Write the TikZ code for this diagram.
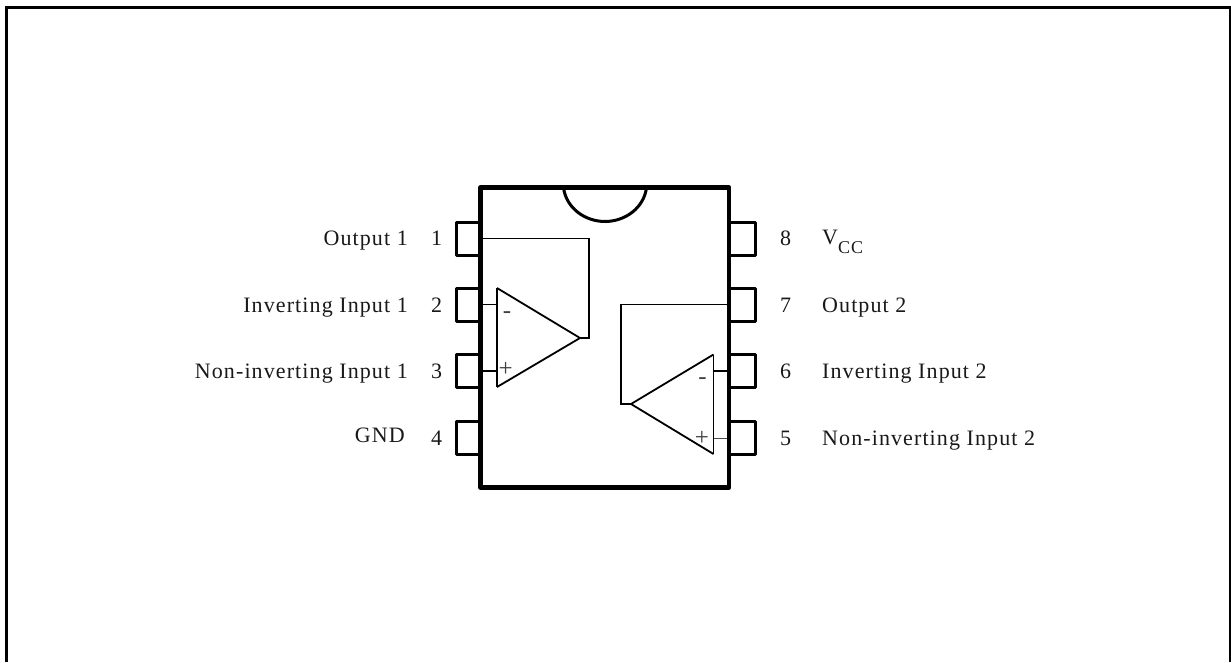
\documentclass[tikz,border=0pt]{standalone}
\usepackage{fontspec}
\setmainfont{Liberation Serif}
\newfontfamily\spaced[LetterSpace=5]{Liberation Serif}
\tikzset{
 pkg/.style={line width=4.5pt,line join=round},
 pinbox/.style={line width=3pt,line join=round},
 wire/.style={line width=1.7pt},
 amp/.style={line width=1.8pt,line join=miter},
 lab/.style={inner sep=0pt,font=\fontsize{22}{24}\selectfont\spaced,text=black!90},
 num/.style={inner sep=0pt,font=\fontsize{22}{24}\selectfont,text=black!90},
 sign/.style={inner sep=0pt,font=\fontsize{25}{28}\selectfont,text=black!75},
}
\begin{document}
\begin{tikzpicture}[x=1pt,y=-1pt]
\useasboundingbox (0,0) rectangle (1231,662);
\draw[line width=3pt] (6,662) -- (6,7) -- (1230,7) -- (1230,662);
% pins
\foreach \n/\y in {p1/222,p2/288.5,p3/354.5,p4/421}{
 \draw[pinbox] (480,\y) -- (456,\y) -- (456,\y+33) -- (480,\y+33);}
\foreach \n/\y in {p8/222,p7/288,p6/354.5,p5/421}{
 \draw[pinbox] (729,\y) -- (755,\y) -- (755,\y+33) -- (729,\y+33);}
% body with notch
\draw[pkg] (480.5,187.5) rectangle (729,487.5);
\draw[line width=3pt] (563.5,187.5) .. controls (566,208) and (585,221.5) .. (605,221.5) .. controls (625,221.5) and (644,208) .. (646.5,187.5);
% amp 1
\coordinate (a1) at (497,288); \coordinate (b1) at (497,387); \coordinate (c1) at (580,338);
\draw[amp] (a1) -- (c1) -- (b1);
\draw[line width=1.2pt] (a1) -- (b1);
\draw[wire] (c1) -- (589,338) -- (589,238.5) -- (482,238.5);
\draw[wire] (482,304.5) -- (497,304.5);
\draw[wire] (482,371) -- (497,371);
\node[sign] (m1) at (507,315) {-};
\node[sign] (pl1) at (505.7,369.5) {+};
% amp 2
\coordinate (a2) at (713.5,354.5); \coordinate (b2) at (713.5,454); \coordinate (c2) at (631,404);
\draw[amp] (a2) -- (c2) -- (b2);
\draw[line width=1.2pt] (a2) -- (b2);
\draw[wire] (c2) -- (621,404) -- (621,304.5) -- (727,304.5);
\draw[wire] (714,371) -- (727,371);
\draw[line width=1pt,black!70] (714,438) -- (727,438);
\node[sign] (m2) at (702.5,381) {-};
\node[sign] (pl2) at (702,438.5) {+};
% labels left
\node[lab,anchor=base east] (l1) at (408,245.5) {Output 1};
\node[lab,anchor=base east] (l2) at (408,312.5) {Inverting Input 1};
\node[lab,anchor=base east] (l3) at (408,378.5) {Non-inverting Input 1};
\node[lab,anchor=base east] (l4) at (405,442) {GND};
\node[num,anchor=base] (n1) at (436.5,245) {1};
\node[num,anchor=base] (n2) at (436.5,312) {2};
\node[num,anchor=base] (n3) at (436.5,378) {3};
\node[num,anchor=base] (n4) at (436.5,445) {4};
% labels right
\node[num,anchor=base] (n8) at (785.5,245) {8};
\node[num,anchor=base] (n7) at (785.5,312) {7};
\node[num,anchor=base] (n6) at (785.5,378) {6};
\node[num,anchor=base] (n5) at (785.5,445) {5};
\node[lab,anchor=base west] (l8) at (822,244) {V\raisebox{-9pt}{\fontsize{18}{20}\selectfont CC}};
\node[lab,anchor=base west] (l7) at (822,312) {Output 2};
\node[lab,anchor=base west] (l6) at (822,378.5) {Inverting Input 2};
\node[lab,anchor=base west] (l5) at (822,445) {Non-inverting Input 2};
\end{tikzpicture}
\end{document}
